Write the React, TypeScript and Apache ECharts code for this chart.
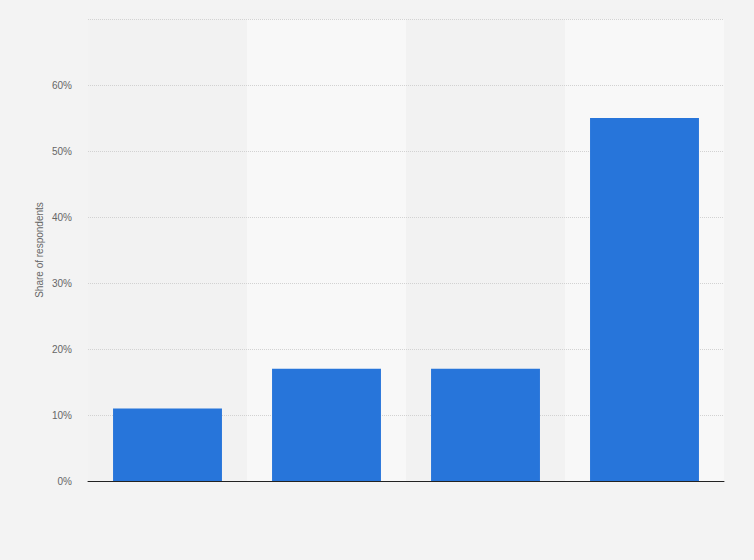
import React, { useEffect, useRef } from 'react';
import * as echarts from 'echarts';

// Các nhóm (không có nhãn trên trục x trong hình)
const categories: string[] = ['Group 1', 'Group 2', 'Group 3', 'Group 4'];
// Tỷ lệ người trả lời (%)
const shares: number[] = [11, 17, 17, 55];
// Nhãn trục y
const yTicks: number[] = [0, 10, 20, 30, 40, 50, 60, 70];

const App: React.FC = () => {
    const chartRef = useRef<HTMLDivElement>(null);

    useEffect(() => {
        document.body.style.margin = '0';
        if (!chartRef.current) return;
        const myChart = echarts.init(chartRef.current, undefined, { renderer: 'svg' });

        const option: echarts.EChartsOption = {
            animation: false,
            backgroundColor: '#f3f3f3',
            grid: { left: 88, right: 30, top: 19, bottom: 79 },
            xAxis: [
                {
                    // trục nền: chỉ vẽ các dải màu xen kẽ
                    type: 'category',
                    data: categories,
                    z: 0,
                    axisLabel: { show: false },
                    axisTick: { show: false },
                    axisLine: { show: false },
                    splitArea: {
                        show: true,
                        areaStyle: { color: ['#f2f2f2', '#f8f8f8'] }
                    }
                },
                {
                    // trục trên cùng: đường trục x màu đậm
                    type: 'category',
                    data: categories,
                    position: 'bottom',
                    z: 5,
                    axisLabel: { show: false },
                    axisTick: { show: false },
                    axisLine: { lineStyle: { color: '#222', width: 1 } }
                }
            ],
            yAxis: {
                type: 'value',
                z: 1,
                min: yTicks[0],
                max: yTicks[yTicks.length - 1],
                interval: 10,
                name: 'Share of respondents',
                nameLocation: 'middle',
                nameGap: 44,
                nameMoveOverlap: false,
                nameTextStyle: { color: '#666', fontSize: 10, fontFamily: 'Arial, Liberation Sans, sans-serif' },
                axisLine: { show: false },
                axisTick: { show: false },
                axisLabel: {
                    color: '#666',
                    fontSize: 10,
                    margin: 16,
                    fontFamily: 'Arial, Liberation Sans, sans-serif',
                    formatter: (v: number) => (v === 70 ? '' : v + '%')
                },
                splitLine: { lineStyle: { color: '#d2d2d2', type: [1, 1], width: 1 } }
            },
            series: [
                {
                    type: 'bar',
                    data: shares,
                    z: 2,
                    barWidth: '68.5%',
                    itemStyle: { color: '#2775da' }
                }
            ]
        };
        myChart.setOption(option as any);

        return () => {
            myChart.dispose();
        };
    }, []);

    return <div ref={chartRef} style={{ width: '754px', height: '560px' }} />;
};

export default App;
